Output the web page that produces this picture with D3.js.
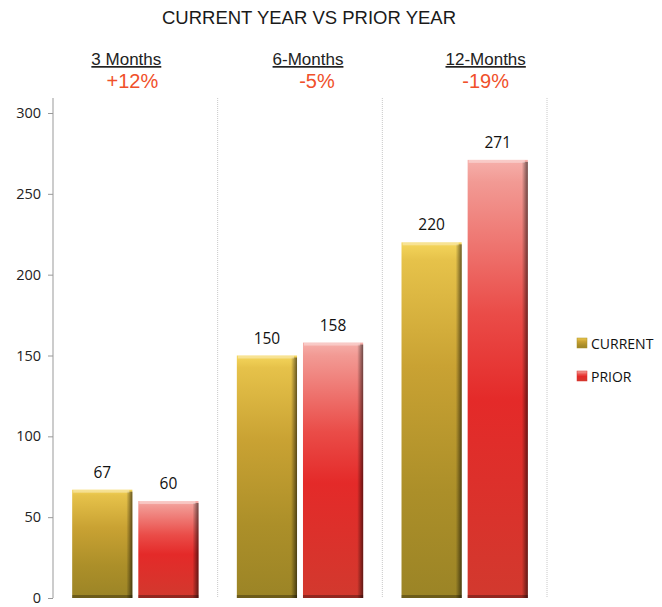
<!DOCTYPE html>
<html>
<head>
<meta charset="utf-8">
<script src="https://cdn.jsdelivr.net/npm/d3@7"></script>
<style>
  body { margin: 0; background: #fff; }
  svg { font-family: "Liberation Sans", Arial, sans-serif; }
  .num { font-family: "Open Sans", "DejaVu Sans", sans-serif; }
</style>
</head>
<body>
<div class="content"></div>
<script>
var periods = ["3 Months", "6-Months", "12-Months"];
var changes = ["+12%", "-5%", "-19%"];
var current = [67, 150, 220];
var prior = [60, 158, 271];
var series = ["CURRENT", "PRIOR"];
var yTicks = [0, 50, 100, 150, 200, 250, 300];

var fullWidth = 662, fullHeight = 607;
var margin = {top: 113, right: 115, bottom: 9, left: 53};
var width = fullWidth - margin.left - margin.right;
var height = fullHeight - margin.top - margin.bottom;

var svg = d3.select("div.content").append("svg")
    .attr("width", fullWidth)
    .attr("height", fullHeight);

// gradients for the bevelled bars
var defs = svg.append("defs");
function grad(id, stops){
    var g = defs.append("linearGradient").attr("id", id)
        .attr("x1", 0).attr("y1", 0).attr("x2", 0).attr("y2", 1);
    stops.forEach(function(s){
        g.append("stop").attr("offset", s[0]).attr("stop-color", s[1]);
    });
}
grad("g-current", [[0, "#f5d65c"], [0.05, "#e6c24a"], [0.35, "#c9a233"], [0.7, "#ac8f29"], [1, "#9b8426"]]);
grad("g-prior", [[0, "#f6b0ab"], [0.05, "#f29a94"], [0.35, "#ea4c48"], [0.55, "#e42a29"], [1, "#d2392e"]]);
var edge = defs.append("linearGradient").attr("id", "g-edge")
    .attr("x1", 0).attr("y1", 0).attr("x2", 1).attr("y2", 0);
edge.append("stop").attr("offset", 0).attr("stop-color", "#000").attr("stop-opacity", 0);
edge.append("stop").attr("offset", 1).attr("stop-color", "#000").attr("stop-opacity", 0.55);

var g = svg.append("g")
    .attr("transform", "translate(" + margin.left + "," + margin.top + ")");

var x0 = d3.scaleBand().domain(periods).range([0, width]).paddingInner(0).paddingOuter(0);
var x1 = d3.scaleBand().domain(series).range([0, x0.bandwidth()]).paddingInner(0.09).paddingOuter(0.29);
var y = d3.scaleLinear().domain([0, 300]).range([height, 0]);
var color = {CURRENT: "g-current", PRIOR: "g-prior"};
var legendColor = {CURRENT: "#a88f27", PRIOR: "#d8302c"};

// title
svg.append("text")
    .attr("x", 309).attr("y", 24)
    .attr("text-anchor", "middle")
    .style("font-size", "18.5px")
    .style("fill", "#1a1a1a")
    .text("CURRENT YEAR VS PRIOR YEAR");

// dotted dividers
g.selectAll(".divider")
    .data(periods)
  .enter().append("line")
    .attr("class", "divider")
    .attr("x1", function(d){return x0(d) + x0.bandwidth();})
    .attr("x2", function(d){return x0(d) + x0.bandwidth();})
    .attr("y1", -15).attr("y2", height)
    .style("stroke", "#c8c8c8")
    .style("stroke-dasharray", "1,1");

// y-axis
var yAxis = g.append("g")
    .attr("class", "y-axis")
    .call(d3.axisLeft(y).tickValues(yTicks).tickSize(5).tickPadding(7));
yAxis.select(".domain").attr("d", "M0,-15V" + height).style("stroke", "#999");
yAxis.selectAll(".tick line").style("stroke", "#999");
yAxis.selectAll(".tick text")
    .attr("class", "num")
    .style("font-size", "14.5px")
    .style("fill", "#222");

// headers
var headerShift = [-9, 8, 21];
var pctShift = [-3, 17, 21];
g.selectAll(".period")
    .data(periods)
  .enter().append("text")
    .attr("class", "period")
    .attr("x", function(d, i){return x0(d) + x0.bandwidth() / 2 + headerShift[i];})
    .attr("y", -48)
    .attr("text-anchor", "middle")
    .style("font-size", "17px")
    .style("fill", "#222")
    .style("text-decoration", "underline")
    .text(function(d){return d;});
g.selectAll(".change")
    .data(changes)
  .enter().append("text")
    .attr("class", "change")
    .attr("x", function(d, i){return x0(periods[i]) + x0.bandwidth() / 2 + pctShift[i];})
    .attr("y", -25)
    .attr("text-anchor", "middle")
    .style("font-size", "20px")
    .style("fill", "#f0502a")
    .text(function(d){return d;});

// bars
var rows = periods.map(function(p, i){
    return {period: p, values: [{key: "CURRENT", value: current[i]}, {key: "PRIOR", value: prior[i]}]};
});
var groups = g.selectAll(".group")
    .data(rows)
  .enter().append("g")
    .attr("class", "group")
    .attr("transform", function(d){return "translate(" + x0(d.period) + ",0)";});

var bars = groups.selectAll(".bar")
    .data(function(d){return d.values;})
  .enter().append("g")
    .attr("class", "bar");

bars.append("rect")
    .attr("x", function(d){return x1(d.key);})
    .attr("y", function(d){return y(d.value);})
    .attr("width", x1.bandwidth())
    .attr("height", function(d){return height - y(d.value);})
    .style("fill", function(d){return "url(#" + color[d.key] + ")";});
// dark right edge
bars.append("rect")
    .attr("x", function(d){return x1(d.key) + x1.bandwidth() - 6;})
    .attr("y", function(d){return y(d.value) + 2;})
    .attr("width", 6)
    .attr("height", function(d){return height - y(d.value) - 2;})
    .style("fill", "url(#g-edge)");
// light top bevel
bars.append("rect")
    .attr("x", function(d){return x1(d.key) + 1;})
    .attr("y", function(d){return y(d.value);})
    .attr("width", x1.bandwidth() - 4)
    .attr("height", 3)
    .style("fill", "#fff")
    .style("opacity", 0.35);
// dark bottom
bars.append("rect")
    .attr("x", function(d){return x1(d.key);})
    .attr("y", height - 3)
    .attr("width", x1.bandwidth())
    .attr("height", 3)
    .style("fill", "#000")
    .style("opacity", 0.3);

bars.append("text")
    .attr("class", "num")
    .attr("x", function(d){return x1(d.key) + x1.bandwidth() / 2;})
    .attr("y", function(d){return y(d.value) - 12;})
    .attr("text-anchor", "middle")
    .style("font-size", "15.5px")
    .style("fill", "#111")
    .text(function(d){return d.value;});

// legend
var legend = svg.selectAll(".legend")
    .data(series)
  .enter().append("g")
    .attr("class", "legend")
    .attr("transform", function(d, i){return "translate(577," + (338 + i * 33) + ")";});
legend.append("rect")
    .attr("width", 10).attr("height", 10)
    .style("fill", function(d){return "url(#" + color[d] + ")";})
    .style("stroke", function(d){return legendColor[d];})
    .style("stroke-width", 0.5);
legend.append("text")
    .attr("class", "num")
    .attr("x", 14).attr("y", 10.5)
    .style("font-size", "14px")
    .style("fill", "#111")
    .text(function(d){return d;});
</script>
</body>
</html>
